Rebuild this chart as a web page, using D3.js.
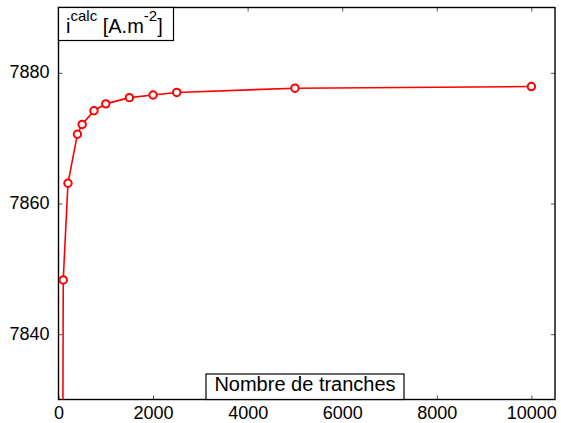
<!DOCTYPE html>
<html>
<head>
<meta charset="utf-8">
<script src="https://cdn.jsdelivr.net/npm/d3@7"></script>
<style>
  html, body { margin: 0; padding: 0; background: #fff; }
  svg { display: block; font-family: "Liberation Sans", Arial, Helvetica, sans-serif; }
</style>
</head>
<body>
<svg id="chart" width="561" height="423"></svg>
<script>
// Number of slices used in the calculation and the resulting current density
const slices = [50, 100, 200, 400, 500, 750, 1000, 1500, 2000, 2500, 5000, 10000];
const current = [7700, 7848.3, 7863.1, 7870.6, 7872.1, 7874.2, 7875.25, 7876.2, 7876.6, 7877.0, 7877.65, 7877.9];

const xTicks = [0, 2000, 4000, 6000, 8000, 10000];
const yTicks = [7840, 7860, 7880];
const xDomain = [0, 10500];
const yDomain = [7830, 7890];

const svg = d3.select("#chart");
const plot = { left: 58.5, right: 555, top: 7.5, bottom: 399.5 };

const x = d3.scaleLinear().domain(xDomain).range([plot.left, plot.right]);
const y = d3.scaleLinear().domain(yDomain).range([plot.bottom, plot.top]);

svg.append("defs").append("clipPath").attr("id", "plotClip")
  .append("rect")
  .attr("x", plot.left).attr("y", plot.top)
  .attr("width", plot.right - plot.left).attr("height", plot.bottom - plot.top);

// Axes: ticks point inward on all four sides, labels only bottom and left
const tickLen = 4;
function styleAxis(g) {
  g.select(".domain").remove();
  g.selectAll(".tick line").attr("stroke", "#555").attr("stroke-width", 1);
  g.selectAll(".tick text").attr("fill", "#000").style("font-size", "18px");
}

svg.append("g")
  .attr("transform", `translate(0,${plot.bottom})`)
  .call(d3.axisBottom(x).tickValues(xTicks).tickSizeInner(-tickLen).tickSizeOuter(0).tickPadding(6).tickFormat(d3.format("d")))
  .call(styleAxis)
  .call(g => g.selectAll(".tick text").attr("dy", "0.75em"));

svg.append("g")
  .attr("transform", `translate(0,${plot.top})`)
  .call(d3.axisTop(x).tickValues(xTicks).tickSizeInner(-tickLen).tickSizeOuter(0).tickFormat(""))
  .call(styleAxis);

svg.append("g")
  .attr("transform", `translate(${plot.left},0)`)
  .call(d3.axisLeft(y).tickValues(yTicks).tickSizeInner(-tickLen).tickSizeOuter(0).tickPadding(9).tickFormat(d3.format("d")))
  .call(styleAxis)
  .call(g => g.selectAll(".tick text").attr("dy", "0.28em"));

svg.append("g")
  .attr("transform", `translate(${plot.right},0)`)
  .call(d3.axisRight(y).tickValues(yTicks).tickSizeInner(-tickLen).tickSizeOuter(0).tickFormat(""))
  .call(styleAxis);

// Plot frame
svg.append("rect")
  .attr("x", plot.left).attr("y", plot.top)
  .attr("width", plot.right - plot.left).attr("height", plot.bottom - plot.top)
  .attr("fill", "none").attr("stroke", "#000").attr("stroke-width", 1.4);

// Data line and markers
const data = slices.map((s, i) => ({ s, v: current[i] }));
const dataLayer = svg.append("g").attr("clip-path", "url(#plotClip)");

dataLayer.append("path")
  .datum(data)
  .attr("fill", "none")
  .attr("stroke", "#ff0000")
  .attr("stroke-width", 1.6)
  .attr("d", d3.line().x(d => x(d.s)).y(d => y(d.v)));

dataLayer.selectAll("circle")
  .data(data)
  .join("circle")
  .attr("cx", d => x(d.s))
  .attr("cy", d => y(d.v))
  .attr("r", 3.7)
  .attr("fill", "#fff")
  .attr("stroke", "#ff0000")
  .attr("stroke-width", 2);

// Y axis title in a boxed label at the top-left corner
const yLab = svg.append("g");
yLab.append("rect")
  .attr("x", plot.left).attr("y", plot.top)
  .attr("width", 173.5 - plot.left).attr("height", 40.5 - plot.top)
  .attr("fill", "#fff").attr("stroke", "#000").attr("stroke-width", 1.2);
const yt = yLab.append("text")
  .attr("x", 66).attr("y", 33.3)
  .attr("fill", "#000")
  .style("font-size", "20px");
yt.append("tspan").text("i");
yt.append("tspan").attr("dy", -12).style("font-size", "15px").text("calc");
yt.append("tspan").attr("dy", 12).text(" [A.m");
yt.append("tspan").attr("dy", -12).style("font-size", "15px").text("-2");
yt.append("tspan").attr("dy", 12).text("]");

// X axis title in a boxed label above the bottom axis
const xLab = svg.append("g");
xLab.append("rect")
  .attr("x", 206).attr("y", 374)
  .attr("width", 404 - 206).attr("height", plot.bottom - 374)
  .attr("fill", "#fff").attr("stroke", "#000").attr("stroke-width", 1.2);
xLab.append("text")
  .attr("x", 305).attr("y", 391)
  .attr("text-anchor", "middle")
  .attr("fill", "#000")
  .style("font-size", "20px")
  .text("Nombre de tranches");
</script>
</body>
</html>
